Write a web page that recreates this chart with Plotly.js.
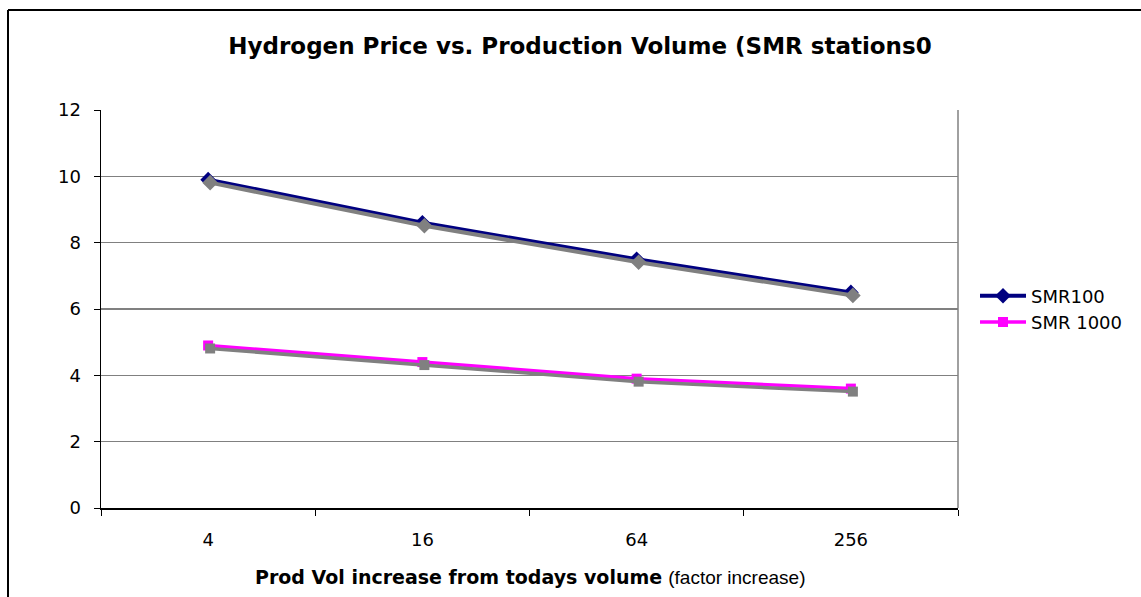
<!DOCTYPE html>
<html>
<head>
<meta charset="utf-8">
<script src="https://cdn.plot.ly/plotly-3.0.1.min.js"></script>
<style>
html,body{margin:0;padding:0;background:#fff;}
#chart{width:1141px;height:597px;}
</style>
</head>
<body>
<div id="chart"></div>
<script>
const categories = ["4", "16", "64", "256"];
const smr100 = [9.9, 8.6, 7.5, 6.5];
const smr1000 = [4.9, 4.4, 3.9, 3.6];
const seriesNames = ["SMR100", "SMR 1000"];
const yTicks = [0, 2, 4, 6, 8, 10, 12];

const L = 101, R = 183, T = 110, B = 89;
const W = 1141 - L - R, H = 597 - T - B;
const FONT = "DejaVu Sans, Verdana, sans-serif";

// shadow offset in pixels -> axis units
const dxPx = 2, dyPx = 3;
const dx = dxPx / (W / 4), dy = dyPx / (H / 12);

const traces = [
  {x: categories, y: smr100, xaxis: "x2", yaxis: "y2", mode: "lines+markers",
   line: {color: "#808080", width: 4}, marker: {symbol: "diamond", size: 12, color: "#808080"},
   showlegend: false, hoverinfo: "skip"},
  {x: categories, y: smr1000, xaxis: "x2", yaxis: "y2", mode: "lines+markers",
   line: {color: "#808080", width: 3.5}, marker: {symbol: "square", size: 10, color: "#808080"},
   showlegend: false, hoverinfo: "skip"},
  {x: categories, y: smr100, name: seriesNames[0], mode: "lines+markers",
   line: {color: "#000080", width: 4}, marker: {symbol: "diamond", size: 12, color: "#000080"}},
  {x: categories, y: smr1000, name: seriesNames[1], mode: "lines+markers",
   line: {color: "#FF00FF", width: 3.5}, marker: {symbol: "square", size: 10, color: "#FF00FF"}}
];

const layout = {
  width: 1141, height: 597,
  margin: {l: L, r: R, t: T, b: B},
  paper_bgcolor: "#ffffff", plot_bgcolor: "#ffffff",
  font: {family: FONT, size: 18, color: "#000"},
  title: {text: "<b>Hydrogen Price vs. Production Volume (SMR stations0</b>",
          font: {family: FONT, size: 23, color: "#000"},
          x: 580 / 1141, xanchor: "center", xref: "container", y: 1 - 46 / 597, yanchor: "middle", yref: "container"},
  xaxis: {type: "category", categoryorder: "array", categoryarray: categories,
          range: [-0.5, 3.5], tickson: "boundaries", ticks: "outside", ticklen: 6, tickcolor: "#000",
          tickwidth: 1, showline: true, linecolor: "#000", linewidth: 1.5, showgrid: false,
          zeroline: false, ticklabelstandoff: 15, tickfont: {family: FONT, size: 18, color: "#000"},
          fixedrange: true},
  yaxis: {range: [0, 12], tickvals: yTicks, ticks: "outside", ticklen: 6, tickcolor: "#000",
          showline: true, linecolor: "#000", linewidth: 1.5, showgrid: true, gridcolor: "#808080",
          gridwidth: 1.3, zeroline: false, ticklabelstandoff: 9,
          tickfont: {family: FONT, size: 18, color: "#000"}, fixedrange: true},
  xaxis2: {type: "category", categoryorder: "array", categoryarray: categories, overlaying: "x",
           range: [-0.5 - dx, 3.5 - dx], visible: false, fixedrange: true},
  yaxis2: {overlaying: "y", range: [0 + dy, 12 + dy], visible: false, fixedrange: true},
  legend: {x: (975 - L) / W, y: (508 - 309) / H, xanchor: "left", yanchor: "middle",
           font: {family: FONT, size: 18, color: "#000"}, bgcolor: "rgba(0,0,0,0)",
           tracegroupgap: 0, itemwidth: 46},
  showlegend: true,
  shapes: [
    {type: "line", xref: "paper", yref: "paper", x0: 1, x1: 1, y0: 0, y1: 1,
     line: {color: "#808080", width: 1.5}, layer: "below"},
    {type: "line", xref: "paper", yref: "paper", x0: (8 - L) / W, x1: (1141 - L) / W,
     y0: (508 - 10) / H, y1: (508 - 10) / H, line: {color: "#000", width: 2}},
    {type: "line", xref: "paper", yref: "paper", x0: (8 - L) / W, x1: (8 - L) / W,
     y0: (508 - 10) / H, y1: (508 - 597) / H, line: {color: "#000", width: 2}}
  ],
  annotations: [
    {xref: "paper", yref: "paper", x: 0.5, y: (508 - 577) / H, xanchor: "center", yanchor: "middle",
     showarrow: false,
     text: "<b>Prod Vol increase from todays volume</b> <span style=\"font-family:'Liberation Sans', Arial, sans-serif;font-size:19px\">(factor increase)</span>",
     font: {family: FONT, size: 19, color: "#000"}}
  ]
};

Plotly.newPlot("chart", traces, layout, {displayModeBar: false, staticPlot: true});
</script>
</body>
</html>
